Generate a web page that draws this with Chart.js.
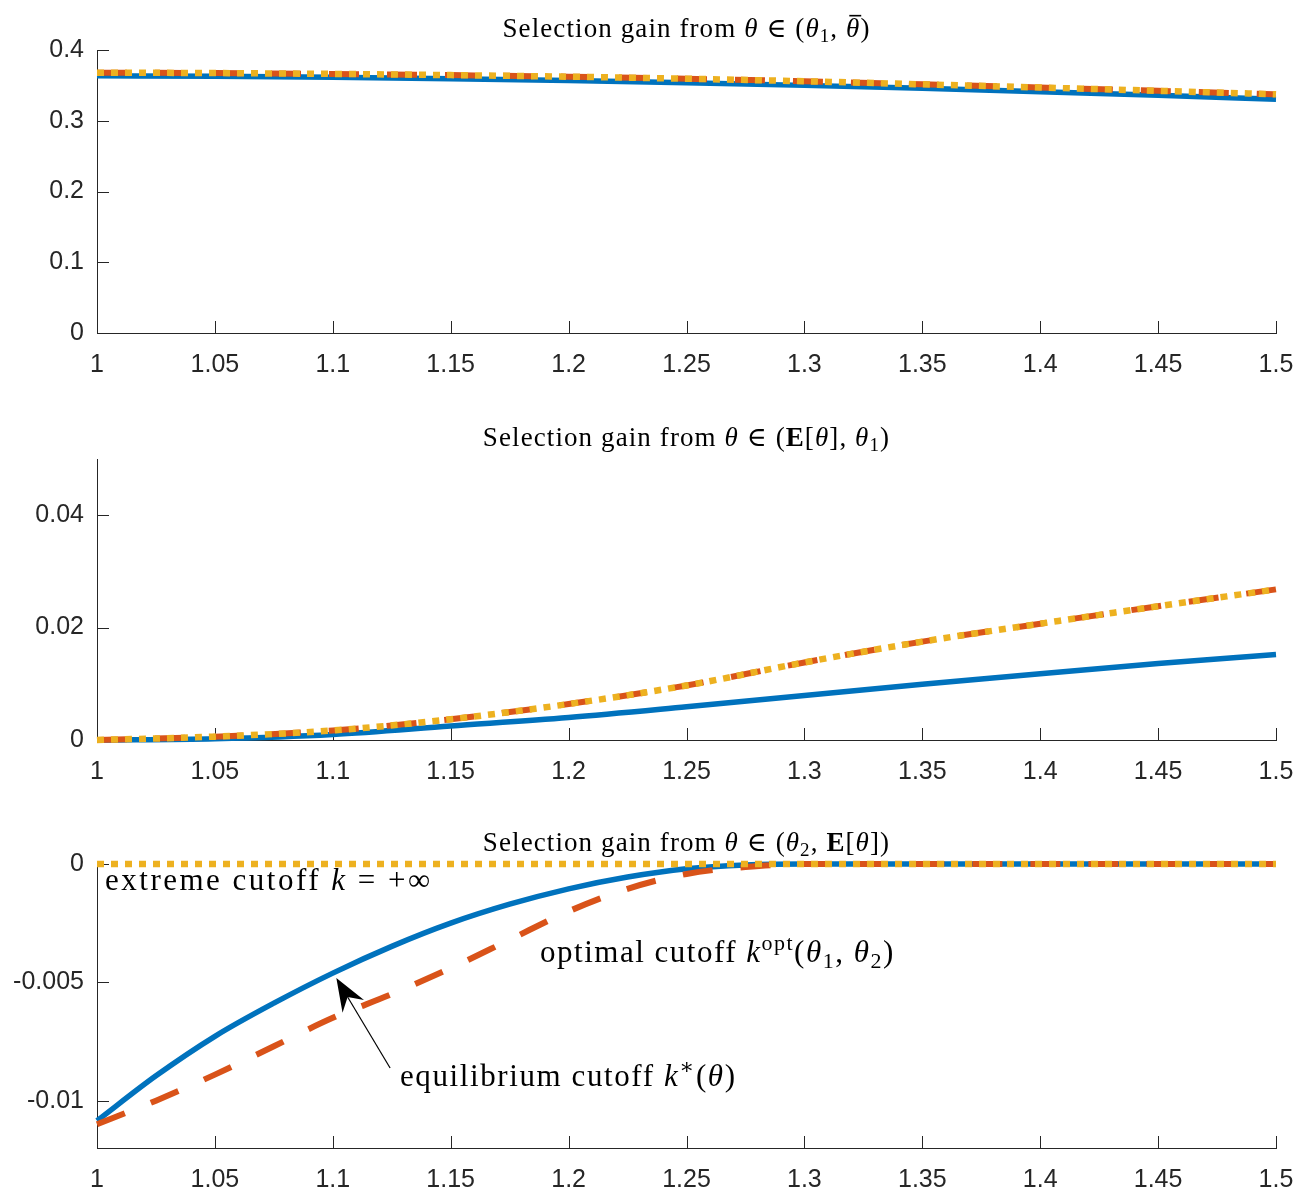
<!DOCTYPE html>
<html>
<head>
<meta charset="utf-8">
<script src="https://cdn.jsdelivr.net/npm/chart.js@4.4.0/dist/chart.umd.min.js"></script>
<style>
  html, body { margin: 0; padding: 0; background: #fff; }
  #wrap { position: relative; width: 1297px; height: 1188px; }
  canvas { position: absolute; left: 0; }
</style>
</head>
<body>
<div id="wrap">
  <canvas id="c1" style="top:0px" width="1297" height="400"></canvas>
  <canvas id="c2" style="top:400px" width="1297" height="400"></canvas>
  <canvas id="c3" style="top:800px" width="1297" height="388"></canvas>
</div>
<script>
// data
const theta = [1, 1.05, 1.1, 1.15, 1.2, 1.25, 1.3, 1.35, 1.4, 1.45, 1.5];
const thetaFine = [1, 1.025, 1.05, 1.075, 1.1, 1.125, 1.15, 1.175, 1.2, 1.225, 1.25,
                   1.275, 1.3, 1.325, 1.35, 1.375, 1.4, 1.425, 1.45, 1.475, 1.5];

// panel 1: theta in (theta1, thetabar)
const topEq  = [0.3635, 0.3628, 0.3614, 0.3594, 0.3568, 0.3537, 0.3500, 0.3458, 0.3411, 0.3359, 0.3303];
const topOpt = [0.3680, 0.3674, 0.3662, 0.3645, 0.3623, 0.3594, 0.3558, 0.3515, 0.3470, 0.3423, 0.3374];
const topExt = [0.3680, 0.3674, 0.3662, 0.3645, 0.3623, 0.3594, 0.3558, 0.3515, 0.3470, 0.3423, 0.3374];

// panel 2: theta in (E[theta], theta1)
const midEq  = [0, 0.00024, 0.0010, 0.0025, 0.0040, 0.0059, 0.0079, 0.0099, 0.0118, 0.0136, 0.0152];
const midOpt = [0, 0.0006, 0.0017, 0.0037, 0.0064, 0.0097, 0.0138, 0.0175, 0.0207, 0.0238, 0.0268];
const midExt = [0, 0.0006, 0.0017, 0.0037, 0.0064, 0.0097, 0.0138, 0.0175, 0.0207, 0.0238, 0.0268];

// panel 3: theta in (theta2, E[theta])
const lowEq  = [-0.01085, -0.00895, -0.00728, -0.00588, -0.00461, -0.00348, -0.0025, -0.0017, -0.00105,
                -0.00055, -0.0002, -0.00004, 0, 0, 0, 0, 0, 0, 0, 0, 0];
const lowOpt = [-0.0110, -0.0100, -0.0089, -0.0077, -0.0065, -0.0055, -0.0044, -0.0032, -0.0020,
                -0.00105, -0.00042, -0.00013, 0, 0, 0, 0, 0, 0, 0, 0, 0];
const lowExt = [0, 0, 0, 0, 0, 0, 0, 0, 0, 0, 0, 0, 0, 0, 0, 0, 0, 0, 0, 0, 0];

const xTicks = [1, 1.05, 1.1, 1.15, 1.2, 1.25, 1.3, 1.35, 1.4, 1.45, 1.5];
const topTicks = [0, 0.1, 0.2, 0.3, 0.4];
const midTicks = [0, 0.02, 0.04];
const lowTicks = [-0.01, -0.005, 0];

const axisColor = '#262626';
const serif = '"Liberation Serif", "DejaVu Serif", serif';
const sans = '"Liberation Sans", Arial, sans-serif';

// rich text pieces: i = italic, b = bold, s = 'sub' | 'sup', o = overline
const title1 = [{t: 'Selection gain from '}, {t: 'θ', i: 1}, {t: ' ∈ ('}, {t: 'θ', i: 1}, {t: '1', s: 'sub'},
                {t: ', '}, {t: 'θ', i: 1, o: 1}, {t: ')'}];
const title2 = [{t: 'Selection gain from '}, {t: 'θ', i: 1}, {t: ' ∈ ('}, {t: 'E', b: 1}, {t: '['}, {t: 'θ', i: 1},
                {t: '], '}, {t: 'θ', i: 1}, {t: '1', s: 'sub'}, {t: ')'}];
const title3 = [{t: 'Selection gain from '}, {t: 'θ', i: 1}, {t: ' ∈ ('}, {t: 'θ', i: 1}, {t: '2', s: 'sub'},
                {t: ', '}, {t: 'E', b: 1}, {t: '['}, {t: 'θ', i: 1}, {t: '])'}];

const noteExtreme = [{t: 'extreme cutoff '}, {t: 'k', i: 1}, {t: ' = +∞'}];
const noteOptimal = [{t: 'optimal cutoff '}, {t: 'k', i: 1}, {t: 'opt', s: 'sup'}, {t: '('}, {t: 'θ', i: 1},
                     {t: '1', s: 'sub'}, {t: ', '}, {t: 'θ', i: 1}, {t: '2', s: 'sub'}, {t: ')'}];
const noteEquil = [{t: 'equilibrium cutoff '}, {t: 'k', i: 1}, {t: '∗', s: 'sup'}, {t: '('}, {t: 'θ', i: 1}, {t: ')'}];

function drawRich(ctx, segs, x, y, size, align, spacing) {
  const font = s => (s.i ? 'italic ' : '') + (s.b ? 'bold ' : '') +
    Math.round(s.s ? size * 0.7 : size) + 'px ' + serif;
  ctx.letterSpacing = spacing + 'px';
  let w = 0;
  segs.forEach(s => { ctx.font = font(s); s.w = ctx.measureText(s.t).width; w += s.w; });
  let cx = align === 'center' ? x - w / 2 : x;
  ctx.fillStyle = '#000';
  ctx.textBaseline = 'alphabetic';
  ctx.textAlign = 'left';
  segs.forEach(s => {
    ctx.font = font(s);
    const dy = s.s === 'sub' ? size * 0.2 : s.s === 'sup' ? -size * 0.4 : 0;
    ctx.fillText(s.t, cx, y + dy);
    if (s.o) {
      ctx.fillRect(cx + size * 0.12, y - size * 0.82, s.w - size * 0.05 - spacing, Math.max(1.2, size * 0.06));
    }
    cx += s.w;
  });
  ctx.letterSpacing = '0px';
}

const matlabAxes = {
  id: 'matlab',
  beforeDatasetsDraw(chart) {
    const {ctx, chartArea: a, scales: {x, y}} = chart;
    ctx.save();
    ctx.strokeStyle = axisColor;
    ctx.lineWidth = 1;
    ctx.beginPath();
    x.ticks.forEach(t => {
      const px = Math.round(x.getPixelForValue(t.value)) + 0.5;
      ctx.moveTo(px, a.bottom); ctx.lineTo(px, a.bottom - 12);
    });
    y.ticks.forEach(t => {
      const py = Math.round(y.getPixelForValue(t.value)) + 0.5;
      ctx.moveTo(a.left, py); ctx.lineTo(a.left + 12, py);
    });
    ctx.stroke();
    ctx.restore();
  },
  afterDraw(chart, args, opts) {
    const {ctx, chartArea: a, scales: {x, y}} = chart;
    ctx.save();
    drawRich(ctx, opts.title, (a.left + a.right) / 2, a.top - 13, 27, 'center', 1.1);
    (opts.notes || []).forEach(n => {
      drawRich(ctx, n.segs, x.getPixelForValue(n.x), y.getPixelForValue(n.y), 31, 'left', n.sp);
    });
    if (opts.arrow) {
      const r = opts.arrow;
      const x0 = x.getPixelForValue(r.from[0]), y0 = y.getPixelForValue(r.from[1]);
      const x1 = x.getPixelForValue(r.to[0]), y1 = y.getPixelForValue(r.to[1]);
      const ang = Math.atan2(y1 - y0, x1 - x0);
      const c = Math.cos(ang), s = Math.sin(ang);
      const L = 33, W = 12.5, N = 22;
      ctx.strokeStyle = '#000';
      ctx.lineWidth = 1.2;
      ctx.beginPath();
      ctx.moveTo(x0, y0);
      ctx.lineTo(x1 - c * N, y1 - s * N);
      ctx.stroke();
      ctx.fillStyle = '#000';
      ctx.beginPath();
      ctx.moveTo(x1, y1);
      ctx.lineTo(x1 - c * L - s * W, y1 - s * L + c * W);
      ctx.lineTo(x1 - c * N, y1 - s * N);
      ctx.lineTo(x1 - c * L + s * W, y1 - s * L - c * W);
      ctx.closePath();
      ctx.fill();
    }
    ctx.restore();
  }
};

function series(xs, ys, kind) {
  const pts = xs.map((v, i) => ({x: v, y: ys[i]}));
  const base = {data: pts, pointRadius: 0, fill: false, clip: false,
                cubicInterpolationMode: 'monotone', borderCapStyle: 'butt'};
  if (kind === 'eq') return {...base, label: 'equilibrium cutoff', borderColor: '#0072BD', borderWidth: 5.5, order: 2};
  if (kind === 'opt') return {...base, label: 'optimal cutoff', borderColor: '#D95319', borderWidth: 6, borderDash: [30, 28], order: 1};
  return {...base, label: 'extreme cutoff', borderColor: '#EDB120', borderWidth: 6.5, borderDash: [7, 7], order: 0};
}

function makePanel(id, datasets, yMin, yMax, yTicks, padTop, xHeight, extra) {
  return new Chart(document.getElementById(id), {
    type: 'line',
    data: {datasets},
    options: {
      responsive: false,
      animation: false,
      layout: {padding: {top: padTop, right: 21, bottom: 0, left: 0}},
      plugins: {
        legend: {display: false},
        tooltip: {enabled: false},
        matlab: extra
      },
      scales: {
        x: {
          type: 'linear', min: 1, max: 1.5,
          afterBuildTicks: ax => { ax.ticks = xTicks.map(v => ({value: v})); },
          afterFit: ax => { ax.height = xHeight; ax.paddingLeft = 0; ax.paddingRight = 0; },
          grid: {display: false, drawTicks: false},
          border: {display: true, color: axisColor, width: 1},
          ticks: {padding: 17, color: axisColor, font: {family: sans, size: 25},
                  maxRotation: 0, autoSkip: false, callback: v => String(v)}
        },
        y: {
          type: 'linear', min: yMin, max: yMax,
          afterBuildTicks: ax => { ax.ticks = yTicks.map(v => ({value: v})); },
          afterFit: ax => { ax.width = 97; ax.paddingTop = 0; ax.paddingBottom = 0; },
          grid: {display: false, drawTicks: false},
          border: {display: true, color: axisColor, width: 1},
          ticks: {padding: 13, color: axisColor, font: {family: sans, size: 25},
                  autoSkip: false, callback: v => String(v)}
        }
      }
    },
    plugins: [matlabAxes]
  });
}

makePanel('c1', [series(theta, topEq, 'eq'), series(theta, topOpt, 'opt'), series(theta, topExt, 'ext')],
  0, 0.4, topTicks, 50, 67, {title: title1});

makePanel('c2', [series(theta, midEq, 'eq'), series(theta, midOpt, 'opt'), series(theta, midExt, 'ext')],
  0, 0.05, midTicks, 59, 60, {title: title2});

makePanel('c3', [series(thetaFine, lowEq, 'eq'), series(thetaFine, lowOpt, 'opt'), series(thetaFine, lowExt, 'ext')],
  -0.012, 0, lowTicks, 64, 40, {
    title: title3,
    notes: [
      {segs: noteExtreme, x: 1.0034, y: -0.0011, sp: 2.5},
      {segs: noteOptimal, x: 1.1879, y: -0.00414, sp: 1.5},
      {segs: noteEquil, x: 1.1285, y: -0.00938, sp: 1.6}
    ],
    arrow: {from: [1.1243, -0.00862], to: [1.1015, -0.00482]}
  });
</script>
</body>
</html>
